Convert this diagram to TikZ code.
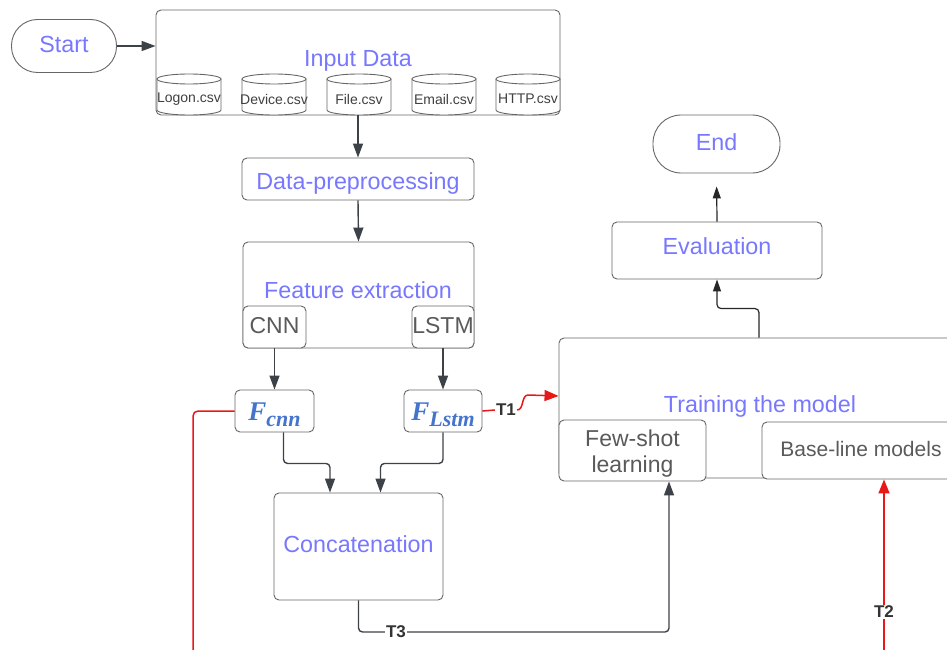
\RequirePackage{fix-cm}
\documentclass[tikz,border=0pt]{standalone}
\usepackage{fontspec}
\setmainfont{Liberation Sans}
\newfontfamily\featfont{Liberation Serif}
\usetikzlibrary{arrows.meta}

\definecolor{labelviolet}{HTML}{7878FF}
\definecolor{boxgray}{HTML}{666666}
\definecolor{textgray}{HTML}{5A5A5A}
\definecolor{arrowdark}{HTML}{3D4148}
\definecolor{featblue}{HTML}{4574CC}
\definecolor{flowred}{HTML}{E81818}

% text moved down by #1 pt inside a box of fixed text height
\newcommand\dropby[2]{\raisebox{-#1pt}{#2}}
% feature symbol: bold italic letter with a large subscript
\newcommand\featsym[2]{{\featfont\bfseries\itshape\fontsize{27}{30}\selectfont #1\raisebox{-6pt}{\fontsize{22}{24}\selectfont #2}}}

\tikzset{
  box/.style={draw=boxgray, line width=0.9pt, rounded corners=5pt, fill=white,
    inner sep=0pt, text height=17pt, text depth=5pt,
    font=\fontsize{23.3}{27}\selectfont, text=labelviolet},
  pill/.style={box, rounded corners=26pt},
  subbox/.style={box, text=textgray, font=\fontsize{23}{26}\selectfont},
  featbox/.style={box, text=featblue},
  title/.style={inner sep=0pt, anchor=base, text=labelviolet, font=\fontsize{23.3}{27}\selectfont},
  cyltext/.style={inner sep=0pt, text=black!75, font=\fontsize{14}{16}\selectfont},
  cylline/.style={draw=boxgray, line width=0.9pt, fill=white},
  arr/.style={draw=arrowdark, line width=1.4pt, -{Triangle[length=14pt,width=10pt]}},
  smallarr/.style={draw=black!85, line width=1.2pt, -{Triangle[length=12pt,width=8pt]}},
  redline/.style={draw=flowred, line width=1.5pt},
  redarr/.style={redline, -{Triangle[length=14pt,width=11pt]}},
  tlabel/.style={inner sep=1pt, fill=white, text=black!80, font=\fontsize{17}{19}\selectfont\bfseries}
}

\begin{document}
\begin{tikzpicture}[x=1pt, y=-1pt]
\useasboundingbox (0,0) rectangle (947,650);

% start / input block
\node[pill, minimum width=105pt, minimum height=53pt] (start) at (64,46) {\dropby{1}{Start}};
\node[box, minimum width=404pt, minimum height=105pt] (input) at (358,62.5) {};
\node[title] (inputtitle) at (358,67) {Input Data};

% data files as cylinders
\foreach \cx/\nm/\lab in {189/logon/Logon.csv, 274/device/Device.csv,
    359/file/File.csv, 444/email/Email.csv, 528/http/HTTP.csv}{
  \draw[cylline] (\cx-32,79) -- (\cx-32,110)
      arc[start angle=180, end angle=0, x radius=32, y radius=5] -- (\cx+32,79);
  \draw[cylline] (\cx,79) ellipse [x radius=32, y radius=5];
  \node[cyltext] (\nm) at (\cx,99) {\lab};
}

% preprocessing and feature extraction
\node[box, minimum width=232pt, minimum height=42pt] (prep) at (358,179) {\dropby{4}{Data-preprocessing}};
\node[box, minimum width=231pt, minimum height=106pt] (feat) at (358.5,295) {};
\node[title] (feattitle) at (358,298) {Feature extraction};
\node[subbox, minimum width=63pt, minimum height=42pt] (cnn) at (274.5,327) {CNN};
\node[subbox, minimum width=62pt, minimum height=42pt] (lstm) at (443,327) {LSTM};

% extracted features
\node[featbox, minimum width=79pt, minimum height=42pt] (fcnn) at (274.5,411) {\dropby{3}{\featsym{F}{cnn}}};
\node[featbox, minimum width=78pt, minimum height=42pt] (flstm) at (443,411) {\dropby{3}{\featsym{F}{Lstm}}};

% fusion
\node[box, minimum width=169pt, minimum height=107pt] (concat) at (358.5,546.5) {Concatenation};

% training block
\node[box, minimum width=401pt, minimum height=140pt] (train) at (759.5,408) {};
\node[title] (traintitle) at (760,412) {Training the model};
\node[box, minimum width=147pt, minimum height=61pt] (few) at (632.5,450.5) {};
\node[inner sep=0pt, align=center, text=textgray, font=\fontsize{23}{26}\selectfont]
  (fewtext) at (632.5,454) {Few-shot\\learning};
\node[subbox, minimum width=198pt, minimum height=57pt, font=\fontsize{21}{24}\selectfont] (base) at (861,450.5) {Base-line models};

% evaluation and end
\node[box, minimum width=210pt, minimum height=57pt] (eval) at (717,250.5) {\dropby{-2}{Evaluation}};
\node[pill, minimum width=127pt, minimum height=58pt, rounded corners=28pt] (end) at (716.5,144) {End};

% main flow
\draw[arr] (start) -- (start -| input.west);
\draw[arr] (input.south) -- (prep.north);
\draw[arr] (prep.south) -- (feat.north);
\draw[arr] (cnn.south) -- (fcnn.north);
\draw[arr] (lstm.south) -- (flstm.north);
\draw[arr, rounded corners=4pt] ([xshift=9pt]fcnn.south) -- ++(0,31) -| ([xshift=-28.5pt]concat.north);
\draw[arr, rounded corners=4pt] (flstm.south) -- ++(0,31) -| ([xshift=22pt]concat.north);

% T3: fused features to few-shot learning
\node[tlabel] (t3) at (396,632) {T3};
\draw[arr, -, rounded corners=4pt] (concat.south) |- (t3.west);
\draw[arr, rounded corners=4pt] (t3.east) -| ([xshift=36.5pt]few.south);

% T1: LSTM features to the training block
\node[tlabel, fill=none] (t1) at (506,410) {T1};
\draw[redline] (flstm.east) -- (t1.west);
\draw[redarr] (t1.east) .. controls +(7,0) and +(-7,0) .. ++(11,-15) -- ([yshift=12pt]train.west);

% CNN features branch
\coordinate (cnnend) at (193,660);
\draw[redline, rounded corners=5pt] (fcnn.west) -| (cnnend);

% T2: into the baseline models
\coordinate (t2start) at (884,660);
\draw[redarr] (t2start) -- (t2start |- base.south);
\node[tlabel] (t2) at (884,612) {T2};

% training to evaluation to end
\draw[smallarr, rounded corners=4pt] ([xshift=-0.5pt]train.north) -- ++(0,-29) -| (eval.south);
\draw[smallarr, shorten >=13pt] (eval.north) -- (end.south);
\end{tikzpicture}
\end{document}
